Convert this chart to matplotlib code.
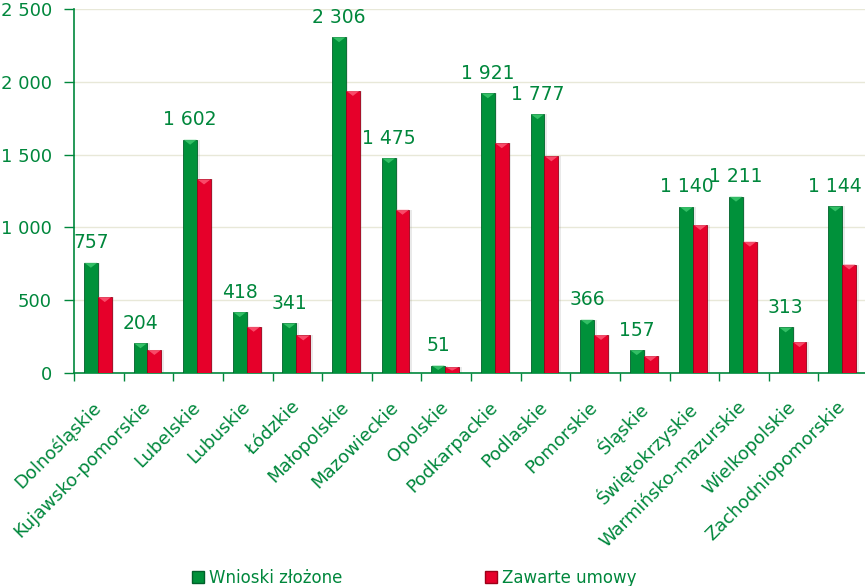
import matplotlib.pyplot as plt
import numpy as np
import matplotlib.transforms as mtrans
from matplotlib.patches import Polygon, Patch
from matplotlib.ticker import FuncFormatter

# data
regions = ['Dolnośląskie', 'Kujawsko-pomorskie', 'Lubelskie', 'Lubuskie', 'Łódzkie',
           'Małopolskie', 'Mazowieckie', 'Opolskie', 'Podkarpackie', 'Podlaskie',
           'Pomorskie', 'Śląskie', 'Świętokrzyskie', 'Warmińsko-mazurskie',
           'Wielkopolskie', 'Zachodniopomorskie']
wnioski = [757, 204, 1602, 418, 341, 2306, 1475, 51, 1921, 1777, 366, 157, 1140, 1211, 313, 1144]
umowy = [521, 158, 1329, 317, 258, 1937, 1121, 40, 1578, 1488, 261, 116, 1016, 902, 212, 745]
series_names = ['Wnioski złożone', 'Zawarte umowy']

txt_green = '#00873C'
green = '#00913A'
green_dark = '#00602A'
green_light = '#3FCB70'
red = '#E6002A'
red_dark = '#9C0018'
red_light = '#FF5C78'


def fmt_space(v, pos=None):
    return '{:,.0f}'.format(v).replace(',', ' ')


fig = plt.figure(figsize=(8.65, 5.86), dpi=100)
ax = fig.add_axes([74 / 865, 1 - 373 / 586, (868 - 74) / 865, (373 - 9) / 586])

x = np.arange(len(regions))
w = 0.28
off = -0.02

# soft shadow behind bars
ax.bar(x + off - w / 2 + 0.05, wnioski, w, color='#888888', alpha=0.18, zorder=1)
ax.bar(x + off + w / 2 + 0.05, umowy, w, color='#888888', alpha=0.18, zorder=1)

b1 = ax.bar(x + off - w / 2, wnioski, w, color=green, edgecolor=green_dark, linewidth=0.6, zorder=3)
b2 = ax.bar(x + off + w / 2, umowy, w, color=red, edgecolor=red_dark, linewidth=0.6, zorder=3)

# little bevel triangle at the top of each bar
tri_h = 34
for bars, light in ((b1, green_light), (b2, red_light)):
    for p in bars:
        x0, wd, h = p.get_x(), p.get_width(), p.get_height()
        d = min(tri_h, h * 0.6)
        ax.add_patch(Polygon([(x0 + 0.01, h), (x0 + wd - 0.01, h), (x0 + wd / 2, h - d)],
                             closed=True, color=light, alpha=0.8, zorder=4, lw=0))

# values above the green bars
for p, v in zip(b1, wnioski):
    ax.annotate(fmt_space(v), (p.get_x() + p.get_width() / 2, v), xytext=(0, 10.5),
                textcoords='offset points', ha='center', va='baseline',
                fontsize=13.5, color=txt_green, zorder=5)

ax.set_ylim(0, 2500)
ax.set_xlim(-0.5, len(regions) - 0.5)
ax.set_yticks(np.arange(0, 2501, 500))
ax.yaxis.set_major_formatter(FuncFormatter(fmt_space))
ax.grid(axis='y', color='#E8E8D8', linewidth=1, zorder=0)
ax.set_axisbelow(True)

# category boundaries as ticks, names on minor ticks
ax.set_xticks(np.arange(-0.5, len(regions), 1.0))
ax.set_xticklabels([])
ax.set_xticks(x, minor=True)
ax.set_xticklabels(regions, minor=True, rotation=45, ha='right', va='top',
                   rotation_mode='anchor', fontsize=13, color=txt_green)
ax.tick_params(axis='x', which='major', direction='out', length=6, color=txt_green, width=1)
ax.tick_params(axis='x', which='minor', length=0, pad=18)
ax.tick_params(axis='y', direction='out', length=7, color=txt_green, width=1,
               labelsize=13, labelcolor=txt_green, pad=9)

# nudge the rotated names a bit to the left
shift = mtrans.ScaledTranslation(-5 / 72, 0, fig.dpi_scale_trans)
for lab in ax.get_xticklabels(minor=True):
    lab.set_transform(lab.get_transform() + shift)

for s in ['top', 'right']:
    ax.spines[s].set_visible(False)
for s in ['left', 'bottom']:
    ax.spines[s].set_color(txt_green)
    ax.spines[s].set_linewidth(1.2)

handles = [Patch(facecolor=green, edgecolor=green_dark), Patch(facecolor=red, edgecolor=red_dark)]
fig.legend(handles, series_names, loc='lower left', bbox_to_anchor=(177 / 865, -0.027), ncol=2,
           frameon=False, fontsize=12, labelcolor=txt_green, handlelength=0.7, handleheight=0.7,
           handletextpad=0.3, columnspacing=8.6)

fig.savefig('out.png', dpi=100)
